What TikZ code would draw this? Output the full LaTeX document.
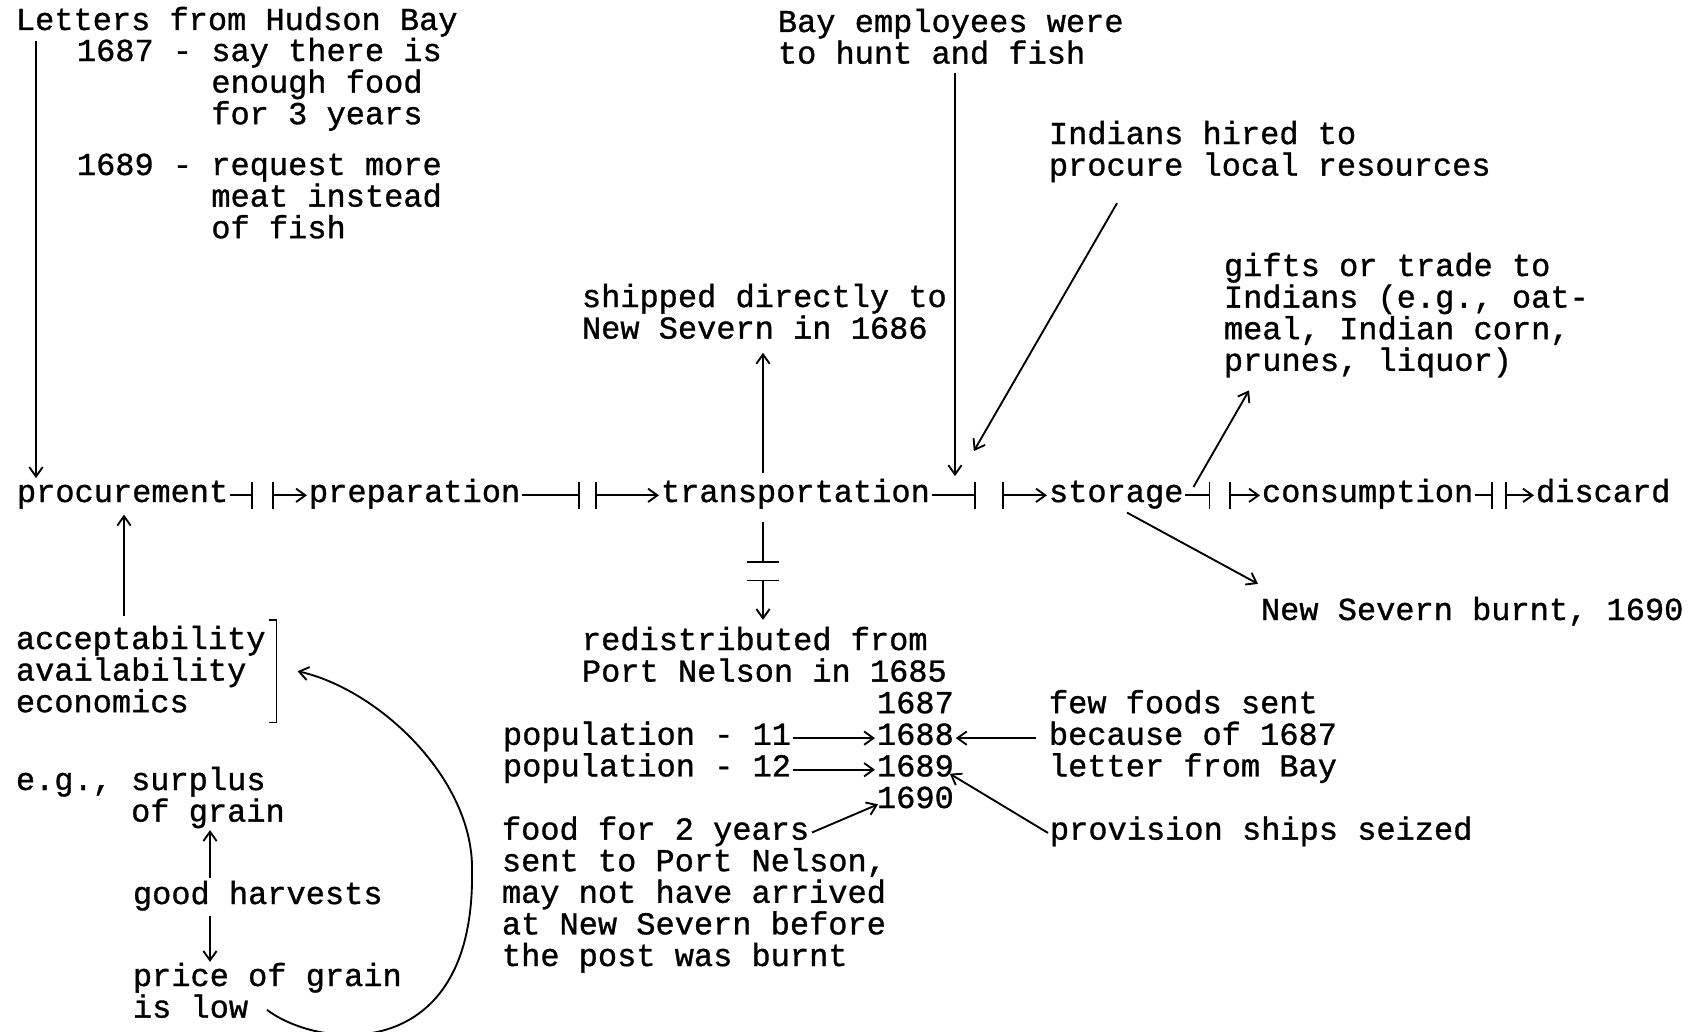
\documentclass[tikz,border=0pt]{standalone}
\usepackage{fontspec}
\usepackage{tikz}
\usetikzlibrary{arrows.meta,calc}
\newfontfamily\typewr[FakeBold=1]{Liberation Mono}

\tikzset{
  txt/.style={anchor=base west, inner sep=0pt, align=left, font=\typewr\fontsize{24pt}{23.7pt}\selectfont},
  stage/.style={txt, text height=15pt, text depth=5pt, outer xsep=1.5pt},
  endbar/.style={-{Bar[width=20pt]}},
  barto/.style={{Bar[width=20pt]}->},
}

\begin{document}
\begin{tikzpicture}[x=0.75pt,y=0.75pt,yscale=-1,line width=1.4pt,>={Straight Barb[length=7pt,width=10pt]}]
\useasboundingbox (0,0) rectangle (1708,1031);

% stages
\node[stage] (proc) at (15,502) {procurement};
\node[stage] (prep) at (307,502) {preparation};
\node[stage] (trans) at (659,502) {transportation};
\node[stage] (stor) at (1047,502) {storage};
\node[stage] (cons) at (1260,502) {consumption};
\node[stage] (disc) at (1534,502) {discard};

\draw[endbar] (proc.east) -- ++(23,0);
\draw[barto] ($(prep.west)+(-35,0)$) -- (prep.west);
\draw[endbar] (prep.east) -- ++(58,0);
\draw[barto] ($(trans.west)+(-64,0)$) -- (trans.west);
\draw[endbar] (trans.east) -- ++(44,0);
\draw[barto] ($(stor.west)+(-45,0)$) -- (stor.west);
\draw[endbar] (stor.east) -- ++(25,0);
\draw[barto] ($(cons.west)+(-31,0)$) -- (cons.west);
\draw[endbar] (cons.east) -- ++(18,0);
\draw[barto] ($(disc.west)+(-29,0)$) -- (disc.west);

% letters (multi-line nodes sit on their last baseline)
\node[txt] (let) at (15,30) {Letters from Hudson Bay};
\node[txt] (l87) at (76,124.2) {1687 - say there is\\\hphantom{1687 - }enough food\\\hphantom{1687 - }for 3 years};
\node[txt] (l89) at (76,238.2) {1689 - request more\\\hphantom{1689 - }meat instead\\\hphantom{1689 - }of fish};
\draw[->] ($(let.south west)+(21,3)$) -- ($(proc.north west)+(21,-3)$);

% above the chain
\node[txt] (bay) at (777,63.6) {Bay employees were\\to hunt and fish};
\draw[->] ($(bay.south west)+(178,8)$) coordinate (bs) -- ($(bs |- trans.north)+(0,-5)$);

\node[txt] (ind) at (1048,175.6) {Indians hired to\\procure local resources};
\draw[->] ($(ind.south west)+(69,20)$) -- ($(trans.north east)+(42,-30)$);

\node[txt] (ship) at (581,338.6) {shipped directly to\\New Severn in 1686};
\draw[->] ($(trans.north west)+(104,-8)$) coordinate (ts) -- ($(ts |- ship.south)+(0,13)$);

\node[txt] (gift) at (1223,370.8) {gifts or trade to\\Indians (e.g., oat-\\meal, Indian corn,\\prunes, liquor)};
\draw[->] ($(stor.north east)+(8,6)$) -- ($(gift.south west)+(26,12)$);

\node[txt] (nsb) at (1260,620) {New Severn burnt, 1690};
\draw[->] ($(stor.south west)+(80,3)$) -- ($(nsb.north west)+(-2,-12)$);

% below transportation
\node[txt] (red) at (581,681.6) {redistributed from\\Port Nelson in 1685};
\draw[-{Bar[width=24pt]}] ($(trans.south west)+(104,12)$) coordinate (td) -- ++(0,41);
\draw[{Bar[width=24pt]}->] ($(td)+(0,58)$) -- ($(td |- red.north)+(0,-6)$);

\node[stage] (y87) at (875,713.2) {1687};
\node[stage] (y88) at (875,744.8) {1688};
\node[stage] (y89) at (875,776.4) {1689};
\node[stage] (y90) at (875,808) {1690};

\node[stage] (p11) at (501,744.8) {population - 11};
\node[stage] (p12) at (501,776.4) {population - 12};
\draw[->] (p11.east) -- (y88.west);
\draw[->] (p12.east) -- (y89.west);

\node[txt] (few) at (1048,776.4) {few foods sent\\because of 1687\\letter from Bay};
\draw[->] ($(y88.east -| few.west)+(-12,0)$) -- (y88.east);

\node[stage] (prov) at (1048,839.6) {provision ships seized};
\draw[->] (prov.west) -- ($(y89.east)+(-6,4)$);

\node[txt] (food) at (501,966) {food for 2 years\\sent to Port Nelson,\\may not have arrived\\at New Severn before\\the post was burnt};
\draw[->] ($(food.north west)+(311,17)$) -- ($(y90.west)+(3,3)$);

% factors
\node[txt] (acc) at (15,712.2) {acceptability\\availability\\economics};
\draw[->] ($(acc.north west)+(109,-9)$) -- ($(proc.south west)+(109,5)$);
\coordinate (bt) at ($(acc.north east)+(10,-5)$);
\coordinate (bb) at ($(acc.south east)+(10,9)$);
\draw ($(bt)+(-8,0)$) -- (bt) -- (bb) -- ++(-8,0);
\coordinate (bm) at ($(bt)!0.5!(bb)+(21,0)$);

\node[txt] (eg) at (15,821.6) {e.g., surplus\\\hphantom{e.g., }of grain};
\node[txt] (good) at (132,904) {good harvests};
\node[txt] (price) at (132,1017.6) {price of grain\\is low};
\draw[->] ($(good.north west)+(78,-2)$) -- ($(eg.south west)+(195,1)$);
\draw[->] ($(good.south west)+(78,4)$) -- ($(price.north west)+(78,0)$);

\coordinate (cs) at ($(price.south west)+(135,-9)$);
\draw[->] (cs) .. controls (320,1050) and (475,1065) .. (472,871) .. controls (474,780) and (380,690) .. (bm);

\end{tikzpicture}
\end{document}
